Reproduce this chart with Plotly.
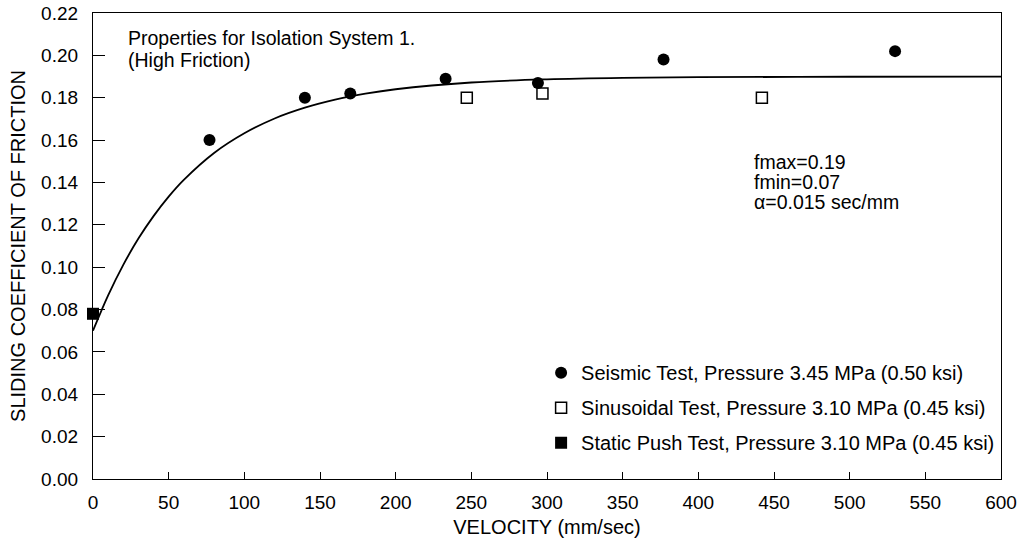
import plotly.graph_objects as go

# ---- data ----
seismic_v = [77, 140, 170, 233, 294, 377, 530]
seismic_f = [0.160, 0.180, 0.182, 0.189, 0.187, 0.198, 0.202]

sinus_v = [247, 297, 442]
sinus_f = [0.180, 0.182, 0.180]

static_v = [0]
static_f = [0.078]

# fitted curve, values
curve_v = [0, 10, 20, 30, 40, 50, 60, 80, 100, 120, 140, 160, 180, 200, 250, 300, 350, 400, 500, 600]
curve_f = [0.0700, 0.0867, 0.1011, 0.1135, 0.1241, 0.1333, 0.1412, 0.1539, 0.1632, 0.1702,
           0.1753, 0.1791, 0.1819, 0.1840, 0.1872, 0.1887, 0.1894, 0.1897, 0.1899, 0.1900]

x_ticks = [0, 50, 100, 150, 200, 250, 300, 350, 400, 450, 500, 550, 600]
y_ticks = [0.00, 0.02, 0.04, 0.06, 0.08, 0.10, 0.12, 0.14, 0.16, 0.18, 0.20, 0.22]

legend_names = [
    "Seismic Test, Pressure 3.45 MPa (0.50 ksi)",
    "Sinusoidal Test, Pressure 3.10 MPa (0.45 ksi)",
    "Static Push Test, Pressure 3.10 MPa (0.45 ksi)",
]

note_lines = [
    ("Properties for Isolation System 1.", 126, 38),
    ("(High Friction)", 126, 60),
    ("fmax=0.19", 752, 162),
    ("fmin=0.07", 752, 182),
    ("α=0.015 sec/mm", 752, 202),
]

FONT = "Liberation Sans, Arial, sans-serif"
L, R, T, B = 93, 19, 13, 62
W, H = 1020, 541
PW, PH = W - L - R, H - T - B

fig = go.Figure()

fig.add_trace(go.Scatter(
    x=curve_v, y=curve_f, mode="lines", line=dict(color="black", width=1.8, shape="spline"),
    showlegend=False, hoverinfo="skip"))

fig.add_trace(go.Scatter(
    x=seismic_v, y=seismic_f, mode="markers", name=legend_names[0], legendgroup="a",
    marker=dict(symbol="circle", size=12, color="black", line=dict(width=0)),
    cliponaxis=False))

fig.add_trace(go.Scatter(
    x=sinus_v, y=sinus_f, mode="markers", name=legend_names[1], legendgroup="b",
    marker=dict(symbol="square-open", size=11, color="black", line=dict(width=1.5)),
    cliponaxis=False))

fig.add_trace(go.Scatter(
    x=static_v, y=static_f, mode="markers", name=legend_names[2], legendgroup="c",
    marker=dict(symbol="square", size=12, color="black", line=dict(width=0)),
    cliponaxis=False))

fig.update_layout(
    width=W, height=H,
    margin=dict(l=L, r=R, t=T, b=B, autoexpand=False),
    paper_bgcolor="white", plot_bgcolor="white",
    font=dict(family=FONT, size=19, color="black"),
    legend=dict(
        x=0.4935, y=0.27, xanchor="left", yanchor="top",
        bgcolor="rgba(0,0,0,0)", borderwidth=0,
        font=dict(size=20), traceorder="grouped", tracegroupgap=6,
        itemwidth=30,
    ),
    showlegend=True,
)

fig.update_xaxes(
    range=[0, 600], tickvals=x_ticks, ticktext=[str(v) for v in x_ticks],
    ticks="inside", ticklen=7, tickwidth=1, tickcolor="black",
    showline=True, linecolor="black", linewidth=1.2, mirror=True,
    showgrid=False, zeroline=False, automargin=False,
    tickfont=dict(size=19), ticklabelstandoff=6,
    title=dict(text="VELOCITY (mm/sec)", font=dict(size=20), standoff=8),
)

fig.update_yaxes(
    range=[0, 0.22], tickvals=y_ticks, ticktext=[f"{v:.2f}" for v in y_ticks],
    ticks="inside", ticklen=12, tickwidth=1, tickcolor="black",
    showline=True, linecolor="black", linewidth=1.2, mirror=True,
    showgrid=False, zeroline=False, automargin=False,
    tickfont=dict(size=19), ticklabelstandoff=10,
    title=dict(text="SLIDING COEFFICIENT OF FRICTION", font=dict(size=20), standoff=10),
)

for text, px, py in note_lines:
    fig.add_annotation(
        text=text, xref="paper", yref="paper",
        x=(px - L) / PW, y=1 - (py - T) / PH,
        xanchor="left", yanchor="middle", align="left", showarrow=False,
        font=dict(size=19.5, family=FONT, color="black"))

fig.write_html("out.html")
